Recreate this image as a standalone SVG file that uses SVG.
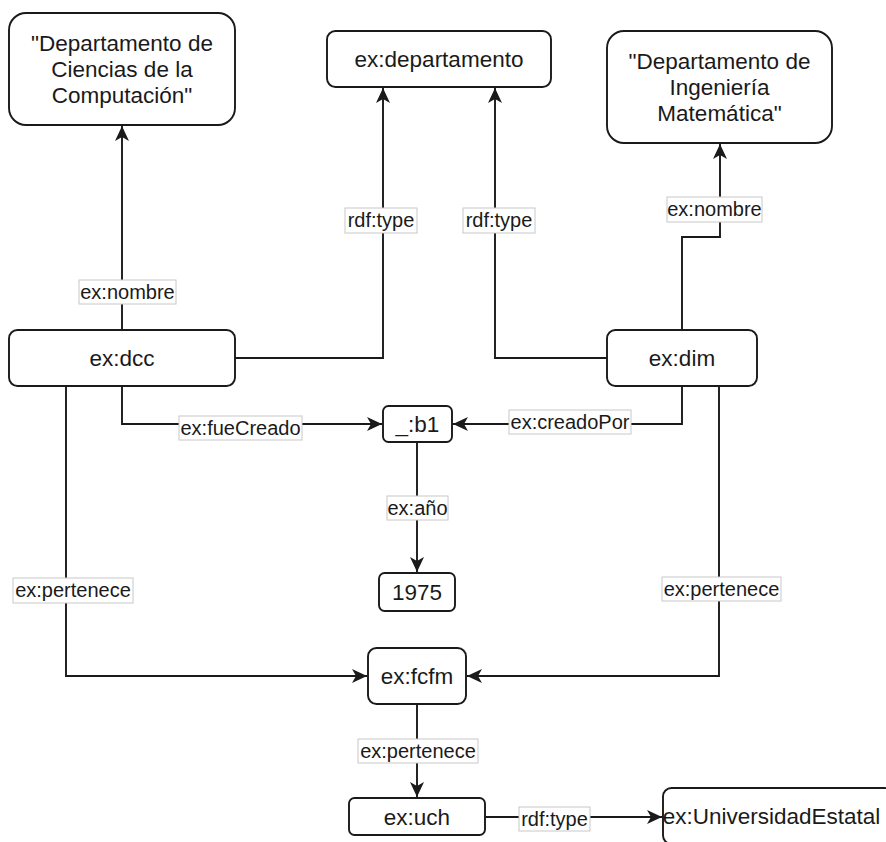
<svg xmlns="http://www.w3.org/2000/svg" width="886" height="842" viewBox="0 0 886 842">
<defs>
<style>
.node{fill:#fff;stroke:#1a1a1a;stroke-width:1.9}
.nt{font-family:"Liberation Sans",Arial,sans-serif;font-size:22.5px;fill:#1a1a1a;text-anchor:middle}
.edge{fill:none;stroke:#1a1a1a;stroke-width:1.9}
.lb{fill:#fff;stroke:#c8c8c8;stroke-width:1}
.lt{font-family:"Liberation Sans",Arial,sans-serif;font-size:20px;fill:#1a1a1a;text-anchor:middle}
</style>
<marker id="arr" markerUnits="userSpaceOnUse" markerWidth="16" markerHeight="14" refX="15" refY="7" orient="auto">
<path d="M0,0 L15,7 L0,14 L4,7 Z" fill="#1a1a1a"/>
</marker>
</defs>
<rect width="886" height="842" fill="#fff"/>
<g id="connectors">
<g id="e-dcc-nombre"><path class="edge" d="M122,330 L122,126" marker-end="url(#arr)"/><rect class="lb" x="79" y="280" width="97" height="24"/><text class="lt" x="127.5" y="299">ex:nombre</text></g>
<g id="e-dcc-type"><path class="edge" d="M235,358 L383,358 L383,88" marker-end="url(#arr)"/><rect class="lb" x="345" y="208" width="72" height="25"/><text class="lt" x="381" y="227">rdf:type</text></g>
<g id="e-dim-type"><path class="edge" d="M607,358 L495,358 L495,88" marker-end="url(#arr)"/><rect class="lb" x="463" y="208" width="72" height="25"/><text class="lt" x="499" y="227">rdf:type</text></g>
<g id="e-dim-nombre"><path class="edge" d="M682,330 L682,237 L720,237 L720,144" marker-end="url(#arr)"/><rect class="lb" x="667" y="197" width="95" height="25"/><text class="lt" x="714.5" y="216">ex:nombre</text></g>
<g id="e-dcc-b1"><path class="edge" d="M122,386 L122,424 L382,424" marker-end="url(#arr)"/><rect class="lb" x="179" y="416" width="123" height="24"/><text class="lt" x="240.5" y="435">ex:fueCreado</text></g>
<g id="e-dim-b1"><path class="edge" d="M682,386 L682,424 L453,424" marker-end="url(#arr)"/><rect class="lb" x="509" y="410" width="122" height="24"/><text class="lt" x="570" y="429">ex:creadoPor</text></g>
<g id="e-b1-1975"><path class="edge" d="M417,442 L417,572" marker-end="url(#arr)"/><rect class="lb" x="387" y="496" width="61" height="24"/><text class="lt" x="417.5" y="515">ex:año</text></g>
<g id="e-dcc-fcfm"><path class="edge" d="M66,386 L66,676 L367,676" marker-end="url(#arr)"/><rect class="lb" x="13" y="578" width="120" height="25"/><text class="lt" x="73" y="597">ex:pertenece</text></g>
<g id="e-dim-fcfm"><path class="edge" d="M719,386 L719,676 L467,676" marker-end="url(#arr)"/><rect class="lb" x="662" y="577" width="119" height="24"/><text class="lt" x="721.5" y="596">ex:pertenece</text></g>
<g id="e-fcfm-uch"><path class="edge" d="M417,704 L417,797" marker-end="url(#arr)"/><rect class="lb" x="358" y="739" width="120" height="24"/><text class="lt" x="418" y="758">ex:pertenece</text></g>
<g id="e-uch-ue"><path class="edge" d="M485,817 L662,817" marker-end="url(#arr)"/><rect class="lb" x="519" y="807" width="71" height="24"/><text class="lt" x="554.5" y="826">rdf:type</text></g>
</g>
<g id="n-dccname"><rect class="node" x="9" y="13" width="226" height="112" rx="17"/><text class="nt" x="122" y="50.6">"Departamento de</text><text class="nt" x="122" y="77">Ciencias de la</text><text class="nt" x="122" y="103.4">Computación"</text></g>
<g id="n-departamento"><rect class="node" x="327" y="31" width="224" height="56" rx="8.4"/><text class="nt" x="439" y="67">ex:departamento</text></g>
<g id="n-dimname"><rect class="node" x="607" y="31" width="225" height="112" rx="17"/><text class="nt" x="719.5" y="68.6">"Departamento de</text><text class="nt" x="719.5" y="95">Ingeniería</text><text class="nt" x="719.5" y="121.4">Matemática"</text></g>
<g id="n-dcc"><rect class="node" x="9" y="330" width="226" height="56" rx="8.4"/><text class="nt" x="122" y="366">ex:dcc</text></g>
<g id="n-dim"><rect class="node" x="607" y="330" width="150" height="56" rx="8.4"/><text class="nt" x="682" y="366">ex:dim</text></g>
<g id="n-b1"><rect class="node" x="383" y="406" width="69" height="36" rx="5.4"/><text class="nt" x="417.5" y="432">_:b1</text></g>
<g id="n-1975"><rect class="node" x="379" y="573" width="76" height="38" rx="5.7"/><text class="nt" x="417" y="600">1975</text></g>
<g id="n-fcfm"><rect class="node" x="368" y="648" width="98" height="56" rx="8.4"/><text class="nt" x="417" y="684">ex:fcfm</text></g>
<g id="n-uch"><rect class="node" x="349" y="798" width="136" height="37" rx="5.5"/><text class="nt" x="417" y="824.5">ex:uch</text></g>
<g id="n-ue"><rect class="node" x="663" y="788" width="230" height="56" rx="8.4"/><text class="nt" x="771.5" y="824">ex:UniversidadEstatal</text></g>
</svg>
